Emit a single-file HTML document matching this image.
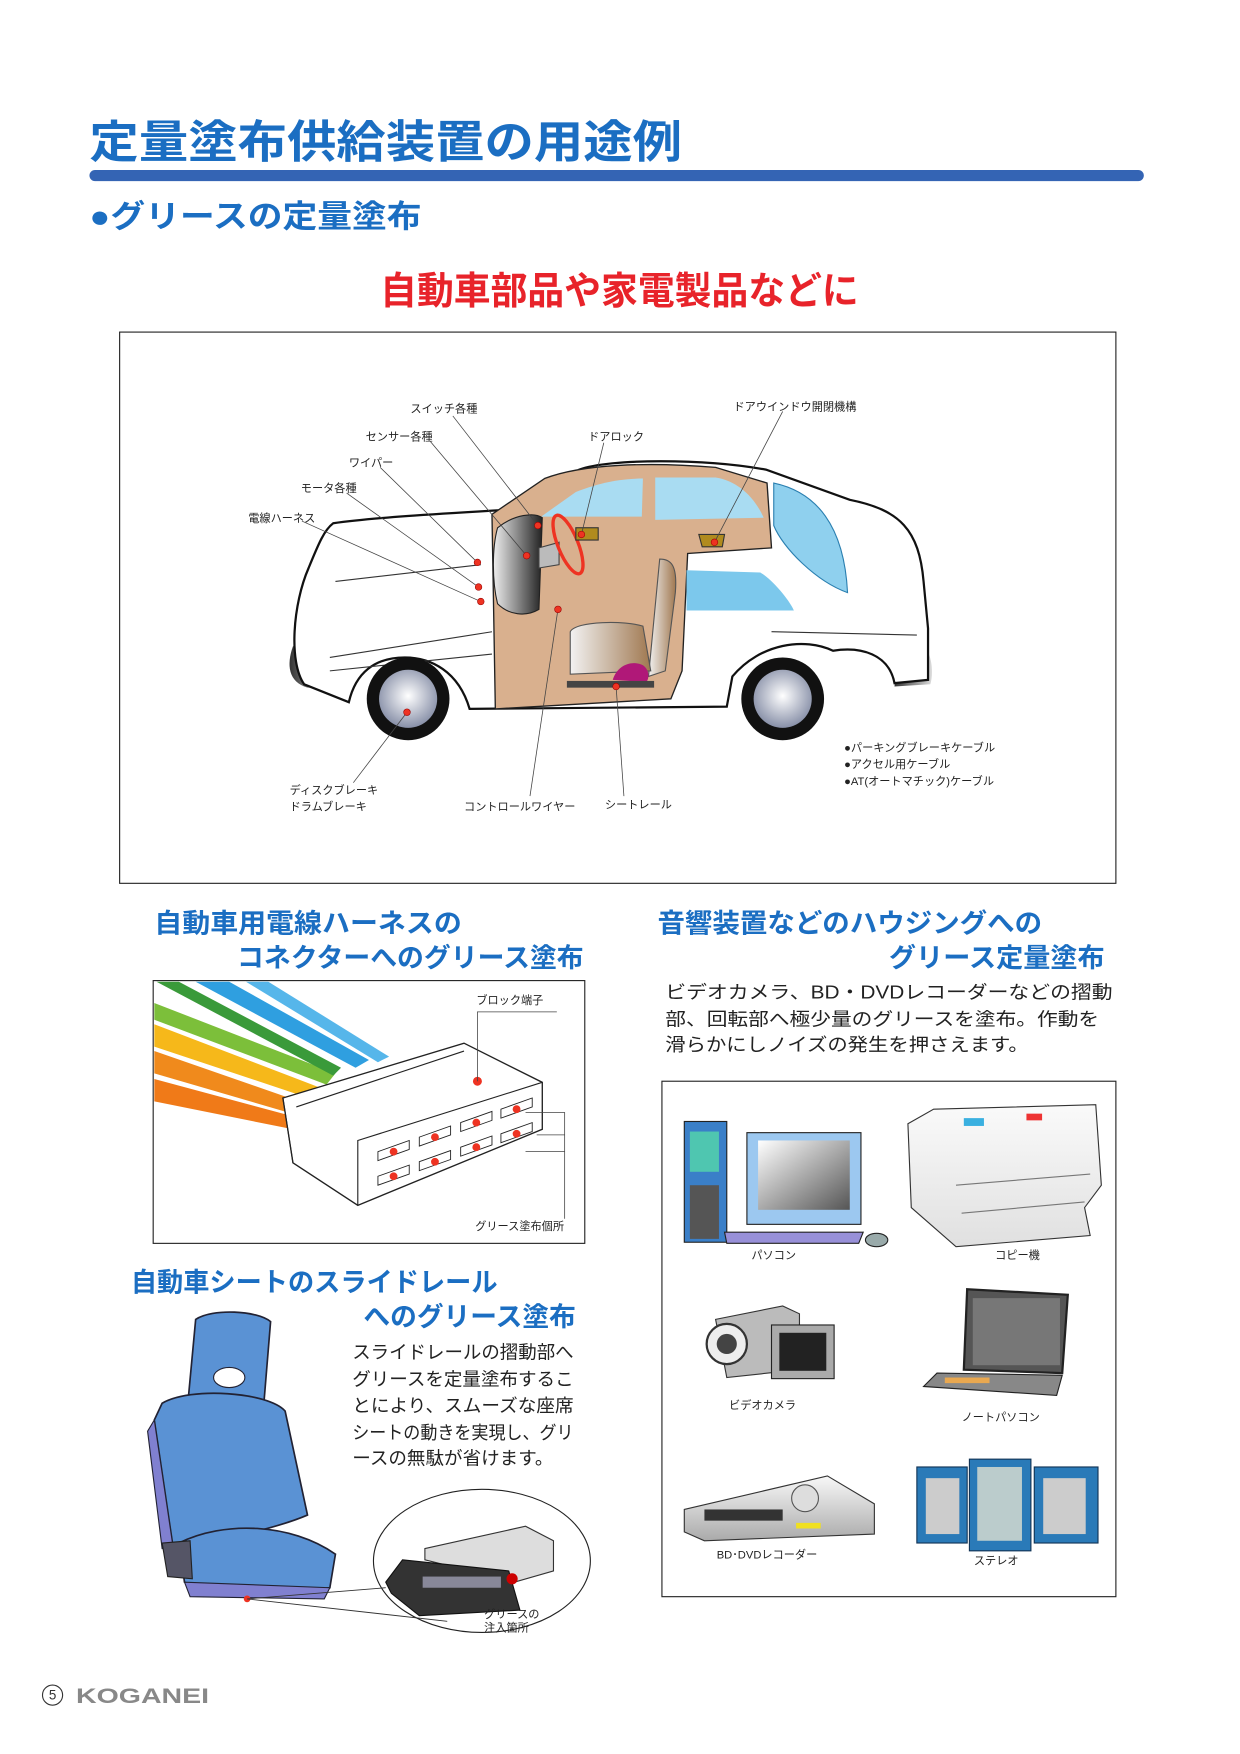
<!DOCTYPE html>
<html><head><meta charset="utf-8"><style>
html,body{margin:0;padding:0;background:#fff}
svg{display:block}
text{font-family:"Liberation Sans","Noto Sans CJK JP",sans-serif}
.b{font-weight:bold}
.s{font-size:10px;fill:#222}
</style></head><body>
<svg width="1240" height="1754" viewBox="0 0 1109 1568.7" xmlns="http://www.w3.org/2000/svg">
<defs>
<radialGradient id="hub" cx="50%" cy="45%" r="55%"><stop offset="0" stop-color="#fff"/><stop offset="1" stop-color="#8890a8"/></radialGradient>
<linearGradient id="dash" x1="0" x2="1"><stop offset="0" stop-color="#eee"/><stop offset="1" stop-color="#222"/></linearGradient>
<linearGradient id="bump" x1="0" x2="1"><stop offset="0" stop-color="#333"/><stop offset="1" stop-color="#ddd"/></linearGradient>
<linearGradient id="seatg" x1="0" x2="1"><stop offset="0" stop-color="#f2f2f2"/><stop offset="1" stop-color="#a07850"/></linearGradient>
<linearGradient id="gr" x1="0" x2="0" y1="0" y2="1"><stop offset="0" stop-color="#f8f8f8"/><stop offset="1" stop-color="#aaa"/></linearGradient>
<linearGradient id="cp" x1="0" x2="0" y1="0" y2="1"><stop offset="0" stop-color="#fafafa"/><stop offset="1" stop-color="#e0e0e0"/></linearGradient>
<linearGradient id="scr" x1="0" x2="1" y1="0" y2="1"><stop offset="0" stop-color="#fff"/><stop offset="1" stop-color="#555"/></linearGradient>
</defs>

<text x="80" y="141" class="b" font-size="40" fill="#1b6ec2" textLength="530" lengthAdjust="spacingAndGlyphs">定量塗布供給装置の用途例</text>
<rect x="80" y="152" width="943" height="10" rx="5" fill="#3464b4"/>
<text x="80" y="203" class="b" font-size="28" fill="#1b6ec2" textLength="297" lengthAdjust="spacingAndGlyphs">●グリースの定量塗布</text>
<text x="340" y="272" class="b" font-size="34" fill="#e8232a" textLength="428" lengthAdjust="spacingAndGlyphs">自動車部品や家電製品などに</text>

<rect x="107" y="297" width="891" height="493" fill="#fff" stroke="#222" stroke-width="1"/>
<path d="M262,578 C256,595 258,610 275,615 L300,615 L295,580 Z" fill="url(#bump)"/>
<path d="M805,560 C834,570 836,600 832,612 L800,614 Z" fill="url(#bump)"/>
<path d="M298,468 C340,462 420,458 468,455 L518,420 C545,410 630,410 685,420 L760,447 C805,456 822,474 826,520 L830,562 L830,608 L800,611 C795,585 770,578 745,582 C720,570 680,575 655,605 L650,632 L420,634 C410,600 385,588 362,588 C335,588 318,602 312,628 L272,612 C258,592 262,540 276,508 C285,486 290,474 298,468 Z" fill="#fff" stroke="#111" stroke-width="2"/>
<path d="M300,520 L430,505 M295,588 L440,565 M295,600 L440,585 M690,565 L820,568" stroke="#333" stroke-width="1" fill="none"/>
<path d="M440,460 L487,428 C520,415 580,413 640,418 L686,432 L690,490 L615,495 L610,600 L600,625 L443,634 Z" fill="#d9b08e" stroke="#222" stroke-width="1.2"/>
<path d="M484,462 L515,440 C540,430 560,428 575,428 L574,462 Z" fill="#a9dcf2"/>
<path d="M586,427 L640,427 C660,430 675,445 683,463 L586,465 Z" fill="#a9dcf2"/>
<path d="M692,432 C730,440 755,470 758,530 C730,520 700,490 692,470 Z" fill="#8fd0ee" stroke="#2a7fb0" stroke-width="1"/>
<path d="M614,510 L680,512 C690,518 705,535 710,546 L614,546 Z" fill="#7cc8ec"/>
<path d="M445,472 C460,460 478,458 485,463 L482,545 C470,552 455,550 445,540 C440,520 440,490 445,472 Z" fill="url(#dash)" stroke="#222"/>
<path d="M482,490 L500,485 L500,505 L482,508 Z" fill="#bbb" stroke="#444"/>
<ellipse cx="508" cy="487" rx="9" ry="28" fill="none" stroke="#e32" stroke-width="3" transform="rotate(-22 508 487)"/>
<rect x="515" y="472" width="20" height="11" fill="#b08b1e" stroke="#333"/>
<path d="M625,478 L648,478 L646,489 L628,489 Z" fill="#b08b1e" stroke="#333"/>
<path d="M590,500 C600,500 606,505 604,530 L595,600 L580,605 Z" fill="url(#seatg)" stroke="#555"/>
<path d="M510,565 C515,555 560,555 575,560 L582,600 L510,603 Z" fill="url(#seatg)" stroke="#555"/>
<path d="M548,608 C552,595 565,590 575,595 C582,600 580,608 578,610 Z" fill="#b01878"/>
<rect x="507" y="609" width="78" height="6" fill="#444"/>
<circle cx="365" cy="625" r="37" fill="#111"/><circle cx="365" cy="625" r="26" fill="url(#hub)"/>
<circle cx="700" cy="625" r="37" fill="#111"/><circle cx="700" cy="625" r="26" fill="url(#hub)"/>
<g stroke="#444" stroke-width="0.7" fill="none">
<line x1="405" y1="372" x2="481" y2="470"/>
<line x1="385" y1="395" x2="471" y2="497"/>
<line x1="340" y1="418" x2="427" y2="503"/>
<line x1="310" y1="441" x2="428" y2="525"/>
<line x1="270" y1="466" x2="430" y2="538"/>
<line x1="540" y1="396" x2="520" y2="478"/>
<line x1="700" y1="368" x2="639" y2="485"/>
<line x1="364" y1="637" x2="316" y2="700"/>
<line x1="499" y1="545" x2="474" y2="712"/>
<line x1="551" y1="614" x2="558" y2="712"/>
</g>
<g fill="#e32" stroke="#900" stroke-width="0.5">
<circle cx="481" cy="470" r="3"/><circle cx="471" cy="497" r="3"/><circle cx="427" cy="503" r="3"/><circle cx="428" cy="525" r="3"/><circle cx="430" cy="538" r="3"/><circle cx="520" cy="478" r="3"/><circle cx="639" cy="485" r="3"/><circle cx="499" cy="545" r="3"/><circle cx="551" cy="614" r="3"/><circle cx="364" cy="637" r="3"/>
</g>
<text x="367" y="369" class="s">スイッチ各種</text>
<text x="327" y="394" class="s">センサー各種</text>
<text x="312" y="417" class="s">ワイパー</text>
<text x="269" y="440" class="s">モータ各種</text>
<text x="222" y="467" class="s">電線ハーネス</text>
<text x="526" y="394" class="s">ドアロック</text>
<text x="656" y="367" class="s">ドアウインドウ開閉機構</text>
<text x="755" y="672" class="s">●パーキングブレーキケーブル</text>
<text x="755" y="687" class="s">●アクセル用ケーブル</text>
<text x="755" y="702" class="s">●AT(オートマチック)ケーブル</text>
<text x="259" y="710" class="s">ディスクブレーキ</text>
<text x="259" y="725" class="s">ドラムブレーキ</text>
<text x="415" y="725" class="s">コントロールワイヤー</text>
<text x="541" y="723" class="s">シートレール</text>

<text x="138" y="834" class="b" font-size="24" fill="#1b6ec2" textLength="275" lengthAdjust="spacingAndGlyphs">自動車用電線ハーネスの</text>
<text x="212" y="865" class="b" font-size="24" fill="#1b6ec2" textLength="310" lengthAdjust="spacingAndGlyphs">コネクターへのグリース塗布</text>

<rect x="137" y="877" width="386" height="235" fill="#fff" stroke="#222"/>
<path d="M138,940 L138,960 L275,1000 L282,990 Z" fill="#f08a1c"/>
<path d="M138,916 L138,936 L285,985 L292,975 Z" fill="#f6b81a"/>
<path d="M138,897 L138,912 L292,970 L300,960 Z" fill="#7cbf3a"/>
<path d="M140,878 L160,878 L305,955 L298,962 Z" fill="#3a9a3a"/>
<path d="M175,878 L205,878 L330,948 L318,955 Z" fill="#2f9fe0"/>
<path d="M220,878 L240,878 L348,945 L338,950 Z" fill="#56b6ea"/>
<path d="M138,965 L138,985 L262,1010 L268,1000 Z" fill="#f07a18"/>
<path d="M253,982 L415,933 L485,968 L485,1010 L320,1078 L262,1040 Z" fill="#fff" stroke="#222" stroke-width="1.2"/>
<path d="M253,982 L262,1040 M265,990 L415,940" stroke="#222" fill="none"/>
<path d="M320,1078 L320,1020 L485,968" stroke="#222" fill="none"/>
<g fill="#fff" stroke="#222" stroke-width="0.8">
<path d="M338,1030 l28,-10 v8 l-28,10z"/><path d="M375,1017 l28,-10 v8 l-28,10z"/><path d="M412,1004 l28,-10 v8 l-28,10z"/><path d="M448,992 l28,-10 v8 l-28,10z"/>
<path d="M338,1052 l28,-10 v8 l-28,10z"/><path d="M375,1039 l28,-10 v8 l-28,10z"/><path d="M412,1026 l28,-10 v8 l-28,10z"/><path d="M448,1014 l28,-10 v8 l-28,10z"/>
</g>
<g fill="#e32"><circle cx="352" cy="1030" r="3.5"/><circle cx="389" cy="1017" r="3.5"/><circle cx="426" cy="1004" r="3.5"/><circle cx="462" cy="992" r="3.5"/><circle cx="352" cy="1052" r="3.5"/><circle cx="389" cy="1039" r="3.5"/><circle cx="426" cy="1026" r="3.5"/><circle cx="462" cy="1014" r="3.5"/><circle cx="427" cy="967" r="4"/></g>
<path d="M427,967 L427,905 L498,905 M470,995 L505,995 L505,1090 M480,1015 L505,1015 M470,1030 L505,1030" stroke="#444" stroke-width="0.7" fill="none"/>
<text x="426" y="898" class="s" font-size="9">ブロック端子</text>
<text x="425" y="1100" class="s" font-size="9">グリース塗布個所</text>

<text x="588" y="834" class="b" font-size="24" fill="#1b6ec2" textLength="344" lengthAdjust="spacingAndGlyphs">音響装置などのハウジングへの</text>
<text x="795" y="865" class="b" font-size="24" fill="#1b6ec2" textLength="193" lengthAdjust="spacingAndGlyphs">グリース定量塗布</text>
<g font-size="16.5" fill="#222">
<text x="595" y="893" textLength="400" lengthAdjust="spacingAndGlyphs">ビデオカメラ、BD・DVDレコーダーなどの摺動</text>
<text x="595" y="917" textLength="388" lengthAdjust="spacingAndGlyphs">部、回転部へ極少量のグリースを塗布。作動を</text>
<text x="595" y="940" textLength="325" lengthAdjust="spacingAndGlyphs">滑らかにしノイズの発生を押さえます。</text>
</g>

<rect x="592" y="967" width="406" height="461" fill="#fff" stroke="#222"/>
<rect x="612" y="1003" width="38" height="108" fill="#3a7fc8" stroke="#222"/>
<rect x="617" y="1012" width="26" height="36" fill="#4fc6b0"/><rect x="617" y="1060" width="26" height="48" fill="#555"/>
<rect x="668" y="1013" width="102" height="82" fill="#9cc8f0" stroke="#222"/>
<rect x="678" y="1020" width="82" height="62" fill="url(#scr)"/>
<path d="M648,1102 L772,1102 L768,1112 L650,1112 Z" fill="#9890d8" stroke="#222"/>
<ellipse cx="784" cy="1109" rx="10" ry="6" fill="#9aa" stroke="#222"/>
<path d="M812,1005 L835,992 L980,988 L985,1060 L970,1080 L975,1105 L855,1115 L815,1080 Z" fill="url(#cp)" stroke="#333"/>
<rect x="862" y="1000" width="18" height="7" fill="#3ab0e0"/><rect x="918" y="996" width="14" height="6" fill="#e33"/>
<path d="M855,1060 L975,1050 M860,1085 L970,1075" stroke="#777"/>
<path d="M640,1180 L700,1168 L715,1175 L715,1225 L650,1232 Z" fill="#bbb" stroke="#333"/>
<circle cx="650" cy="1202" r="18" fill="#eee" stroke="#333" stroke-width="2"/><circle cx="650" cy="1202" r="9" fill="#444"/>
<rect x="690" y="1185" width="56" height="48" fill="#aaa" stroke="#222"/><rect x="697" y="1192" width="42" height="34" fill="#222"/>
<path d="M865,1153 L955,1158 L950,1228 L862,1225 Z" fill="#555" stroke="#222" stroke-width="2"/>
<rect x="870" y="1161" width="78" height="60" fill="#777"/>
<path d="M838,1228 L950,1230 L945,1248 L826,1240 Z" fill="#888" stroke="#222"/>
<rect x="845" y="1232" width="40" height="5" fill="#e9a850"/>
<path d="M612,1350 L740,1320 L782,1345 L782,1372 L630,1378 L612,1370 Z" fill="url(#gr)" stroke="#333"/>
<rect x="630" y="1350" width="70" height="10" fill="#333"/>
<circle cx="720" cy="1340" r="12" fill="#ddd" stroke="#555"/>
<rect x="712" y="1362" width="22" height="5" fill="#f0e020"/>
<rect x="820" y="1312" width="45" height="68" fill="#2a7ab8" stroke="#135"/>
<rect x="828" y="1322" width="30" height="50" fill="#ccc"/>
<rect x="867" y="1305" width="55" height="82" fill="#2a7ab8" stroke="#135"/>
<rect x="874" y="1312" width="40" height="66" fill="#bcc"/>
<rect x="925" y="1312" width="57" height="68" fill="#2a7ab8" stroke="#135"/>
<rect x="933" y="1322" width="38" height="50" fill="#ccc"/>
<text x="672" y="1126" class="s" font-size="9">パソコン</text>
<text x="890" y="1126" class="s" font-size="9">コピー機</text>
<text x="652" y="1260" class="s" font-size="9">ビデオカメラ</text>
<text x="860" y="1271" class="s" font-size="9">ノートパソコン</text>
<text x="641" y="1394" class="s" font-size="9">BD･DVDレコーダー</text>
<text x="871" y="1399" class="s" font-size="9">ステレオ</text>

<text x="117" y="1155" class="b" font-size="24" fill="#1b6ec2" textLength="328" lengthAdjust="spacingAndGlyphs">自動車シートのスライドレール</text>
<text x="325" y="1186" class="b" font-size="24" fill="#1b6ec2" textLength="190" lengthAdjust="spacingAndGlyphs">へのグリース塗布</text>
<g font-size="16.5" fill="#222">
<text x="315" y="1215" textLength="198" lengthAdjust="spacingAndGlyphs">スライドレールの摺動部へ</text>
<text x="315" y="1239" textLength="198" lengthAdjust="spacingAndGlyphs">グリースを定量塗布するこ</text>
<text x="315" y="1263" textLength="198" lengthAdjust="spacingAndGlyphs">とにより、スムーズな座席</text>
<text x="315" y="1287" textLength="198" lengthAdjust="spacingAndGlyphs">シートの動きを実現し、グリ</text>
<text x="315" y="1310" textLength="180" lengthAdjust="spacingAndGlyphs">ースの無駄が省けます。</text>
</g>
<path d="M175,1180 C190,1170 230,1172 242,1182 L236,1255 L168,1255 Z" fill="#5a92d4" stroke="#223" stroke-width="1.5"/>
<ellipse cx="205" cy="1232" rx="14" ry="9" fill="#fff" stroke="#223"/>
<path d="M145,1255 C170,1240 240,1245 255,1262 L275,1355 C240,1370 180,1380 155,1385 L138,1270 Z" fill="#5a92d4" stroke="#223" stroke-width="1.5"/>
<path d="M138,1270 L155,1385 L145,1385 L132,1280 Z" fill="#8080d0" stroke="#223"/>
<path d="M160,1380 C200,1360 260,1362 300,1390 L295,1420 C240,1428 190,1425 165,1415 Z" fill="#5a92d4" stroke="#223" stroke-width="1.5"/>
<path d="M165,1415 L295,1420 L290,1430 L170,1428 Z" fill="#8080d0" stroke="#223"/>
<path d="M145,1380 L170,1378 L172,1412 L150,1410 Z" fill="#556" stroke="#222"/>
<circle cx="221" cy="1430" r="3" fill="#e32"/>
<ellipse cx="431" cy="1396" rx="97" ry="64" fill="#fff" stroke="#222"/>
<path d="M221,1430 L345,1420 M221,1430 L400,1450" stroke="#333" stroke-width="0.8" fill="none"/>
<path d="M380,1385 L470,1365 L495,1378 L495,1405 L460,1415 L380,1395 Z" fill="#ddd" stroke="#333"/>
<path d="M345,1415 L360,1395 L455,1405 L465,1440 L375,1445 L350,1425 Z" fill="#333" stroke="#111"/>
<rect x="378" y="1410" width="70" height="10" fill="#889"/>
<circle cx="458" cy="1412" r="5" fill="#c00"/>
<text x="433" y="1447" class="s" font-size="9">グリースの</text>
<text x="433" y="1459" class="s" font-size="9">注入箇所</text>

<circle cx="47" cy="1516" r="9" fill="none" stroke="#333" stroke-width="1"/>
<text x="47" y="1520" font-size="12" text-anchor="middle" fill="#333">5</text>
<text x="68" y="1523" class="b" font-size="19" fill="#888" textLength="119" lengthAdjust="spacingAndGlyphs">KOGANEI</text>
</svg>
</body></html>
